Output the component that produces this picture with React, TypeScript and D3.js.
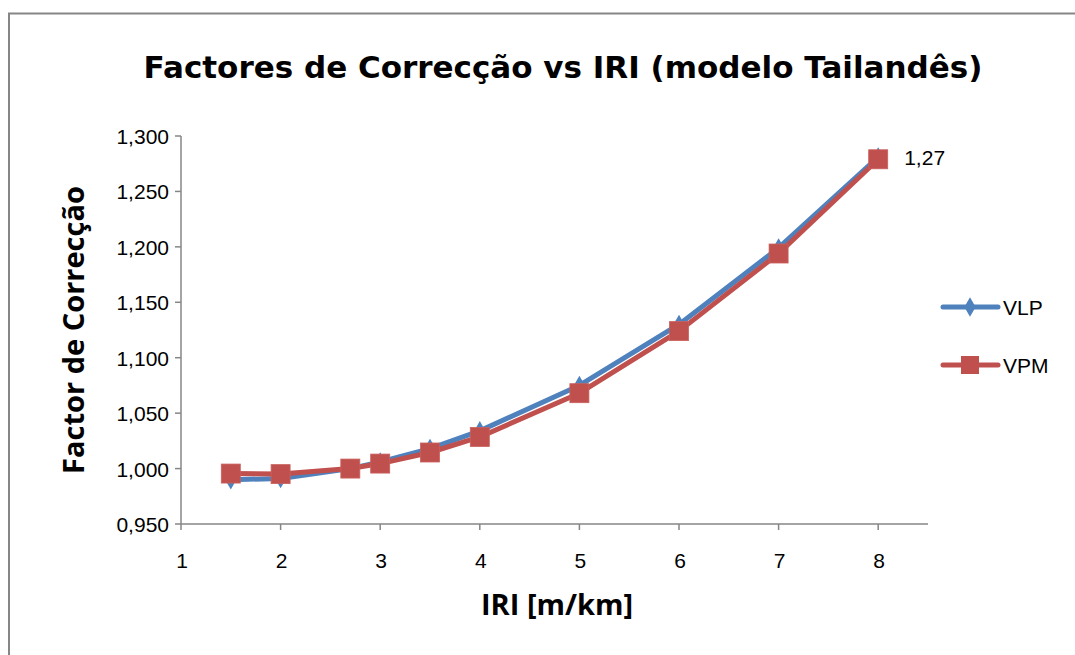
import React from "react";
import * as d3 from "d3";

// IRI values (x) and correction factors
const iri = [1.5, 2, 2.7, 3, 3.5, 4, 5, 6, 7, 8];
const vlp = [0.99, 0.991, 1.0, 1.006, 1.018, 1.034, 1.075, 1.13, 1.199, 1.281];
const vpm = [0.9955, 0.995, 1.0, 1.0045, 1.0145, 1.0285, 1.068, 1.124, 1.194, 1.279];
const xTicks = [1, 2, 3, 4, 5, 6, 7, 8];
const yTicks = [0.95, 1.0, 1.05, 1.1, 1.15, 1.2, 1.25, 1.3];
const lastLabel = "1,27";

const W = 1075;
const H = 655;
const left = 181;
const right = 928;
const top = 136;
const bottom = 524;

const blue = "#4F81BD";
const red = "#C0504D";
const axisColor = "#868686";
const font = "'Liberation Sans', Arial, sans-serif";

export default function App() {
  const x = d3.scaleLinear().domain([1, 8.5]).range([left, right]);
  const y = d3.scaleLinear().domain([0.95, 1.3]).range([bottom, top]);
  const fmt = (v: number) => d3.format(".3f")(v).replace(".", ",");

  const line = d3
    .line<number>()
    .x((_, i) => x(iri[i]))
    .y((d) => y(d));

  const diamond = d3.symbol().type(d3.symbolDiamond).size(110)();

  return (
    <svg
      width={W}
      height={H}
      style={{ position: "absolute", left: 0, top: 0, background: "#fff" }}
    >
      {/* chart area border */}
      <rect x={9} y={13.5} width={1080} height={660} fill="none" stroke={axisColor} strokeWidth={2} />

      <text
        x={563}
        y={78}
        textAnchor="middle"
        fontFamily="'DejaVu Sans', Tahoma, sans-serif"
        fontWeight="bold"
        fontSize={31}
        fill="#000"
      >
        Factores de Correcção vs IRI (modelo Tailandês)
      </text>

      {/* y axis */}
      <line x1={left} x2={left} y1={top} y2={bottom} stroke={axisColor} strokeWidth={1.5} />
      {yTicks.map((t) => (
        <g key={t}>
          <line x1={left - 6} x2={left} y1={y(t)} y2={y(t)} stroke={axisColor} strokeWidth={1.5} />
          <text
            x={left - 12}
            y={y(t) + 8}
            textAnchor="end"
            fontFamily={font}
            fontSize={21}
            fill="#000"
          >
            {fmt(t)}
          </text>
        </g>
      ))}

      {/* x axis */}
      <line x1={left} x2={right} y1={bottom} y2={bottom} stroke={axisColor} strokeWidth={1.5} />
      {xTicks.map((t) => (
        <g key={t}>
          <line x1={x(t)} x2={x(t)} y1={bottom} y2={bottom + 6} stroke={axisColor} strokeWidth={1.5} />
          <text
            x={x(t) + 1}
            y={bottom + 44}
            textAnchor="middle"
            fontFamily={font}
            fontSize={21}
            fill="#000"
          >
            {t}
          </text>
        </g>
      ))}

      <text
        x={557}
        y={615}
        textAnchor="middle"
        fontFamily="'Open Sans', sans-serif"
        fontWeight="bold"
        fontSize={29}
        fill="#000"
      >
        IRI [m/km]
      </text>
      <text
        transform={`translate(84,330) rotate(-90)`}
        textAnchor="middle"
        fontFamily="'Open Sans', sans-serif"
        fontWeight="bold"
        fontSize={29}
        fill="#000"
      >
        Factor de Correcção
      </text>

      {/* VLP series */}
      <path d={line(vlp) ?? ""} fill="none" stroke={blue} strokeWidth={5} strokeLinejoin="round" />
      {vlp.map((v, i) => (
        <path
          key={`d${i}`}
          d={diamond ?? ""}
          transform={`translate(${x(iri[i])},${y(v)})`}
          fill={blue}
        />
      ))}

      {/* VPM series */}
      <path d={line(vpm) ?? ""} fill="none" stroke={red} strokeWidth={5} strokeLinejoin="round" />
      {vpm.map((v, i) => (
        <rect
          key={`s${i}`}
          x={x(iri[i]) - 9.5}
          y={y(v) - 9.5}
          width={19}
          height={19}
          fill={red}
          stroke="#c9605d"
          strokeWidth={0.8}
        />
      ))}

      <text
        x={x(8) + 26}
        y={y(vlp[vlp.length - 1]) + 8}
        fontFamily={font}
        fontSize={21}
        fill="#000"
      >
        {lastLabel}
      </text>

      {/* legend */}
      <g>
        <line x1={943} x2={998} y1={307} y2={307} stroke={blue} strokeWidth={5} strokeLinecap="round" />
        <path d={diamond ?? ""} transform="translate(970,307)" fill={blue} />
        <text x={1003} y={315} fontFamily={font} fontSize={21} fill="#000">
          VLP
        </text>
        <line x1={943} x2={998} y1={365} y2={365} stroke={red} strokeWidth={5} strokeLinecap="round" />
        <rect x={961} y={356} width={18} height={18} fill={red} />
        <text x={1003} y={373} fontFamily={font} fontSize={21} fill="#000">
          VPM
        </text>
      </g>
    </svg>
  );
}
